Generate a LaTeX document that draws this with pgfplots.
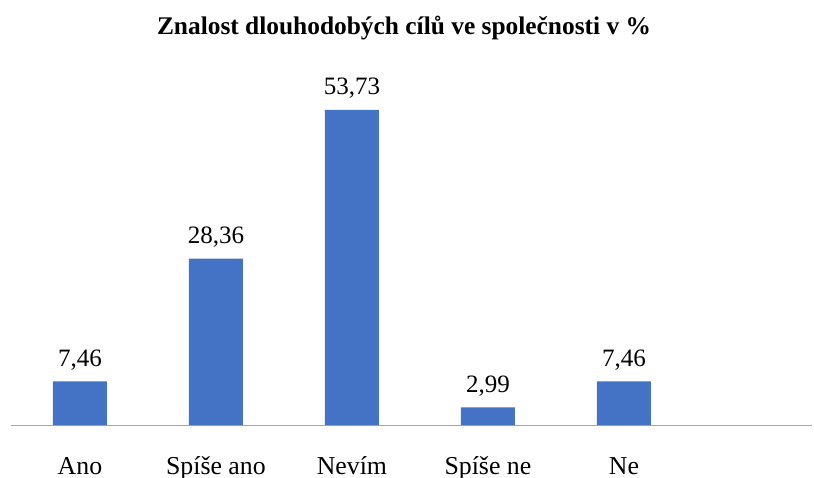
\documentclass[border=0pt]{standalone}
\usepackage{fontspec}
\setmainfont{Liberation Serif}
\usepackage{pgfplots}
\pgfplotsset{compat=1.18}
\definecolor{barblue}{HTML}{4472C4}
\definecolor{axgray}{HTML}{A6A6A6}
\begin{document}
\begin{tikzpicture}
\path[use as bounding box] (0,0) rectangle (814bp,478bp);
\node[font=\fontsize{25.4bp}{30bp}\selectfont\bfseries, anchor=base, inner sep=0pt] at (404bp,443bp) {Znalost dlouhodobých cílů ve společnosti v \%};
\begin{axis}[
 at={(11bp,53bp)}, anchor=south west,
 scale only axis, width=801bp, height=369.4bp,
 xmin=-0.507, xmax=5.383, ymin=0, ymax=63,
 axis x line=bottom, axis y line=none,
 x axis line style={axgray, line width=1bp, -},
 ytick=\empty,
 xtick={0,1,2,3,4}, xticklabels={Ano, Spíše ano, Nevím, Spíše ne, Ne},
 major tick length=0pt,
 xticklabel style={font=\fontsize{25.8bp}{30bp}\selectfont, anchor=base, yshift=-49bp, inner sep=0pt},
 ybar, bar width=54bp, bar shift=0pt,
 nodes near coords={\pgfmathprintnumber[fixed,fixed zerofill,precision=2,use comma,assume math mode=true]{\pgfplotspointmeta}},
 every node near coord/.append style={font=\fontsize{25bp}{30bp}\selectfont, anchor=base, yshift=15bp, inner sep=0pt, text=black},
 clip=false,
]
\addplot[fill=barblue, draw=none] coordinates {(0,7.46) (1,28.36) (2,53.73) (3,2.99) (4,7.46)};
\end{axis}
\end{tikzpicture}
\end{document}
